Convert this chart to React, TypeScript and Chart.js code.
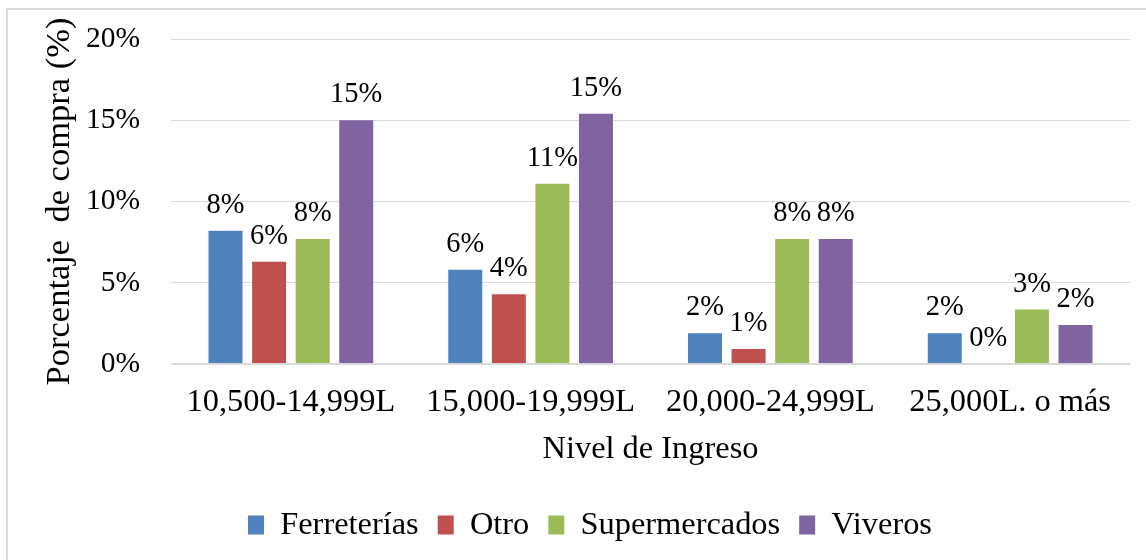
import React, { useEffect, useRef } from "react";
import { Chart, registerables } from "chart.js";

Chart.register(...registerables);

const categories = ["10,500-14,999L", "15,000-19,999L", "20,000-24,999L", "25,000L. o más"];
const seriesNames = ["Ferreterías", "Otro", "Supermercados", "Viveros"];
const ferreterias = [8.2, 5.8, 1.9, 1.9];
const otro = [6.3, 4.3, 0.93, 0];
const supermercados = [7.7, 11.1, 7.7, 3.35];
const viveros = [15.0, 15.4, 7.7, 2.4];
const seriesColors = ["#4F81BD", "#C0504D", "#9BBB59", "#8064A2"];
const yTicks = [0, 5, 10, 15, 20];

const FONT = "'Liberation Serif', 'Times New Roman', serif";

const framePlugin = {
  id: "frame",
  beforeDraw(chart: any) {
    const { ctx, width, height } = chart;
    ctx.save();
    ctx.fillStyle = "#ffffff";
    ctx.fillRect(0, 0, width, height);
    ctx.strokeStyle = "#d9d9d9";
    ctx.lineWidth = 2;
    ctx.strokeRect(7, 9, width + 50, height + 50);
    ctx.restore();
  },
};

const legendShift = {
  id: "legendShift",
  afterLayout(chart: any) {
    if (chart.legend) {
      chart.legend.left += 25;
      chart.legend.right += 25;
    }
  },
};

const labelPlugin = {
  id: "valueLabels",
  afterDatasetsDraw(chart: any) {
    const { ctx } = chart;
    ctx.save();
    ctx.fillStyle = "#000000";
    ctx.font = `28.5px ${FONT}`;
    ctx.textAlign = "center";
    ctx.textBaseline = "alphabetic";
    chart.data.datasets.forEach((ds: any, i: number) => {
      const meta = chart.getDatasetMeta(i);
      meta.data.forEach((el: any, j: number) => {
        const v = ds.data[j];
        ctx.fillText(`${Math.round(v)}%`, el.x, el.y - 18);
      });
    });
    ctx.restore();
  },
};

export default function App() {
  const ref = useRef<HTMLCanvasElement | null>(null);
  useEffect(() => {
    if (!ref.current) return;
    const data = [ferreterias, otro, supermercados, viveros];
    const chart = new Chart(ref.current, {
      type: "bar",
      data: {
        labels: categories,
        datasets: seriesNames.map((name, i) => ({
          label: name,
          data: data[i],
          backgroundColor: seriesColors[i],
          borderWidth: 0,
          categoryPercentage: 0.727,
          barPercentage: 0.78,
        })),
      },
      options: {
        responsive: false,
        animation: false,
        layout: { padding: { top: 39, right: 16, bottom: 8.8, left: 0 } },
        plugins: {
          tooltip: { enabled: false },
          legend: {
            position: "bottom",
            labels: {
              font: { family: FONT, size: 32.4 },
              color: "#000000",
              boxWidth: 16,
              boxHeight: 19,
              padding: 19,
            },
          },
        },
        scales: {
          x: {
            grid: { display: false, drawTicks: false },
            border: { display: false },
            ticks: { font: { family: FONT, size: 32.4 }, color: "#000000", padding: 19 },
            title: {
              display: true,
              text: "Nivel de Ingreso",
              font: { family: FONT, size: 32.4 },
              color: "#000000",
              padding: { top: 0, bottom: 20.4 },
            },
            afterFit(scale: any) {
              scale.height = 125.8;
            },
          },
          y: {
            min: 0,
            max: 20,
            afterBuildTicks(scale: any) {
              scale.ticks = yTicks.map((v) => ({ value: v }));
            },
            grid: {
              drawTicks: false,
              color: "#d9d9d9",
              lineWidth: (c: any) => (c.tick && c.tick.value === 0 ? 2 : 1),
            },
            border: { display: false },
            ticks: {
              font: { family: FONT, size: 29.5 },
              color: "#000000",
              padding: 31,
              callback: (v: any) => `${v}%`,
            },
            title: {
              display: true,
              text: "Porcentaje  de compra (%)",
              font: { family: FONT, size: 34.5 },
              color: "#000000",
              padding: { top: 39, bottom: 0 },
            },
            afterFit(scale: any) {
              scale.width = 171;
              scale.paddingTop = 0;
              scale.paddingBottom = 0;
            },
          },
        },
      },
      plugins: [framePlugin, legendShift, labelPlugin],
    });
    return () => chart.destroy();
  }, []);
  return (
    <div style={{ position: "fixed", left: 0, top: 0, width: 1146, height: 560, overflow: "hidden" }}>
      <canvas ref={ref} width={1146} height={560} style={{ display: "block" }} />
    </div>
  );
}
